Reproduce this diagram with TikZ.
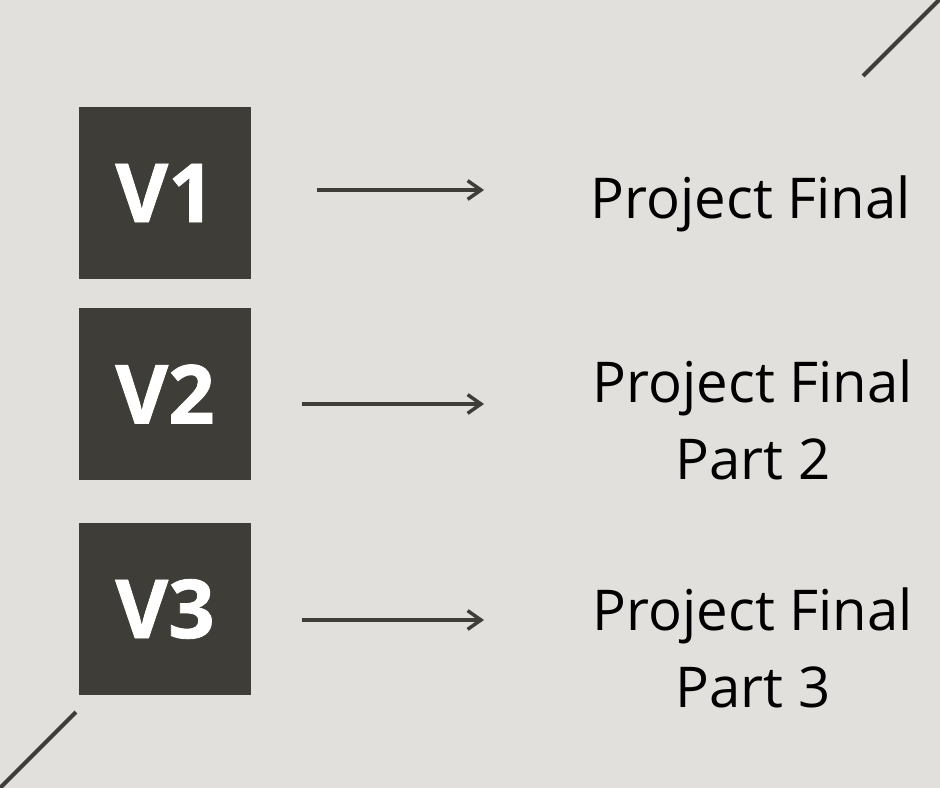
\documentclass[tikz,border=0pt]{standalone}
\usepackage{fontspec}
\setmainfont{Open Sans}
\newfontfamily\heavyfont[FakeBold=1]{Open Sans Bold}
\usetikzlibrary{arrows.meta,calc,positioning}
\definecolor{paper}{HTML}{E1E0DC}
\definecolor{slate}{HTML}{3E3D38}

\begin{document}
\begin{tikzpicture}[
  x=0.75pt,
  y=-0.75pt,
  versionbox/.style={
    fill=slate,
    draw=none,
    minimum width=129pt,
    minimum height=129pt,
    inner sep=0pt,
    text=white,
    font=\fontsize{61}{61}\selectfont\heavyfont
  },
  label/.style={
    anchor=base,
    align=center,
    inner sep=0pt,
    text=black,
    font=\fontsize{42.2}{57.75}\selectfont
  },
  flow/.style={
    slate,
    line width=2.6pt,
    -{Straight Barb[length=10pt,width=14pt,line width=2.6pt]}
  },
  corner/.style={
    slate,
    line width=3pt
  }
]

\useasboundingbox (0,0) rectangle (940,788);
\fill[paper] (0,0) rectangle (940,788);
\clip (0,0) rectangle (940,788);

% corner strokes
\draw[corner] (863,76) -- (950,-11);
\draw[corner] (76,712) -- (-10,798);

% version boxes
\node[versionbox] (v1) at (165,193) {V1};
\node[versionbox] (v2) at (165,394) {V2};
\node[versionbox] (v3) at (165,609) {V3};

% labels (base = last line)
\node[label] (p1) at (751,219) {Project Final};
\node[label] (p2) at (753,479) {Project Final\\Part 2};
\node[label] (p3) at (753,707) {Project Final\\Part 3};

% arrow ends
\coordinate (e1) at (484,190);
\coordinate (e2) at (484,404);
\coordinate (e3) at (484,620);

\draw[flow,shorten <=49.5pt] (v1.east |- e1) -- (e1);
\draw[flow,shorten <=38.25pt] (v2.east |- e2) -- (e2);
\draw[flow,shorten <=38.25pt] (v3.east |- e3) -- (e3);

\end{tikzpicture}
\end{document}
